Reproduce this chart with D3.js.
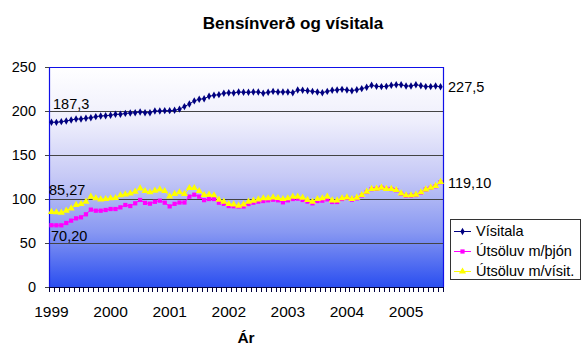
<!DOCTYPE html>
<html><head><meta charset="utf-8">
<script src="https://cdn.jsdelivr.net/npm/d3@7"></script>
<style>body{margin:0;background:#fff}svg{display:block}text{font-family:"Liberation Sans",Arial,sans-serif}</style>
</head><body><svg id="c" width="586" height="360"></svg>
<script>
const years = ["1999","2000","2001","2002","2003","2004","2005"];
const nMonths = 80;
const yTicks = [0,50,100,150,200,250];
const visitala = [187.3,187.1,187.9,188.6,189.8,190.9,190.9,191.7,192.4,193.6,194.3,194.7,195.1,196.2,196.2,197.3,197.7,198.1,198.9,198.1,198.1,200.0,200.0,200.4,200.4,200.8,202.1,205.0,208.0,211.5,213.3,214.0,216.7,217.8,218.6,220.1,220.8,220.5,221.6,221.2,221.2,221.6,221.6,220.1,221.2,222.3,221.6,221.6,221.6,220.8,223.9,223.5,223.1,222.3,221.6,220.8,222.3,223.5,223.9,224.6,223.9,223.1,224.2,225.4,226.9,229.2,228.0,227.7,228.0,229.2,229.9,229.9,228.4,228.4,229.9,228.8,227.7,227.7,228.4,227.5];
const thjon = [70.2,70.1,70.1,72.7,75.4,78.0,79.2,82.6,87.9,86.7,86.7,87.5,88.6,88.6,90.5,93.2,92.0,95.1,98.9,95.6,94.7,96.8,98.1,95.8,91.6,94.5,96.0,96.0,102.7,104.9,102.7,98.7,100.0,100.0,95.8,94.5,92.0,91.8,91.5,91.5,94.3,95.8,97.0,97.7,98.5,99.2,98.5,96.2,98.5,100.0,100.4,98.9,97.0,95.1,97.7,98.1,99.6,96.6,96.6,100.0,101.2,99.2,100.8,104.0,108.0,111.2,111.5,112.8,111.5,111.3,110.0,106.0,103.8,103.8,104.5,107.3,110.8,112.6,114.5,119.1];
const visit = [85.27,84.9,84.5,86.7,89.4,93.2,94.3,97.0,102.7,100.8,99.6,100.0,100.8,101.1,104.2,105.3,106.4,108.3,112.1,109.1,107.6,109.5,111.0,109.1,103.0,105.7,107.6,105.7,112.5,112.5,109.1,104.5,104.9,104.2,99.2,97.0,94.3,93.9,92.4,93.9,97.0,98.1,99.6,100.8,100.8,101.9,101.1,100.0,100.8,102.7,102.7,101.5,98.9,97.0,100.0,100.8,102.7,98.5,98.5,100.8,101.9,100.0,101.5,104.5,108.3,111.4,111.7,112.9,111.4,111.4,110.2,106.4,104.2,104.2,104.9,107.6,111.0,112.9,114.8,119.4];
const seriesNames = ["Vísitala","Útsöluv m/þjón","Útsöluv m/vísit."];
const firstLabels = ["187,3","70,20","85,27"];
const lastLabels = ["227,5","119,10",null];

const categories = d3.range(nMonths);
const svg = d3.select("#c");
const L=49,R=443,T=67,B=287;
const x = d3.scaleBand().domain(categories).range([L,R]).paddingInner(0).paddingOuter(0);
const y = d3.scaleLinear().domain([0,250]).range([B,T]);
const cx = i => x(i)+x.bandwidth()/2;

const defs = svg.append("defs");
const g = defs.append("linearGradient").attr("id","bg").attr("x1",0).attr("y1",0).attr("x2",0).attr("y2",1);
[[0,"#ffffff"],[0.25,"#eeeefc"],[0.5,"#c6c9f6"],[0.75,"#8898f2"],[1,"#2a4ef0"]].forEach(s=>g.append("stop").attr("offset",s[0]).attr("stop-color",s[1]));

svg.append("rect").attr("x",L).attr("y",T).attr("width",R-L).attr("height",B-T).attr("fill","url(#bg)");

// gridlines
svg.append("g").selectAll("line").data(yTicks.filter(d=>d>0&&d<250)).join("line")
  .attr("x1",L-4).attr("x2",R).attr("y1",d=>y(d)+0.5).attr("y2",d=>y(d)+0.5).attr("stroke","#444").attr("stroke-width",1);
// border
svg.append("path").attr("d",`M${L+0.5},${B}V${T+0.5}H${R+0.5}V${B}`).attr("fill","none").attr("stroke","#1010e8").attr("stroke-width",1.2);
// y ticks at 0 and 250
svg.append("g").selectAll("line").data([0,250]).join("line")
  .attr("x1",L-4).attr("x2",L).attr("y1",d=>y(d)+0.5).attr("y2",d=>y(d)+0.5).attr("stroke","#444");
// y labels
svg.append("g").selectAll("text").data(yTicks).join("text")
  .attr("x",36).attr("y",d=>y(d)+5).attr("text-anchor","end").attr("font-size",14.5).attr("fill","#000").text(d=>d);
// x axis
svg.append("line").attr("x1",L).attr("x2",R+1).attr("y1",B+0.5).attr("y2",B+0.5).attr("stroke","#000040");
svg.append("g").selectAll("line").data(d3.range(nMonths+1)).join("line")
  .attr("x1",i=>Math.round(L+i*x.bandwidth())+0.5).attr("x2",i=>Math.round(L+i*x.bandwidth())+0.5)
  .attr("y1",B).attr("y2",B+5).attr("stroke","#000040");
svg.append("g").selectAll("text").data(years).join("text")
  .attr("x",(d,i)=>cx(i*12)).attr("y",316.5).attr("text-anchor","middle").attr("font-size",15.5).text(d=>d);

// series
const data = [visitala,thjon,visit];
const colors = ["#000080","#ff00ff","#ffff00"];
const symbols = [d3.symbolDiamond,d3.symbolSquare,d3.symbolTriangle];
const sizes = [16,18,22];
const line = d3.line().x((d,i)=>cx(i)).y(d=>y(d));
data.forEach((s,k)=>{
  const gg = svg.append("g");
  gg.append("path").datum(s).attr("d",line).attr("fill","none").attr("stroke",colors[k]).attr("stroke-width",1);
  gg.selectAll("path.m").data(s).join("path").attr("class","m")
    .attr("transform",(d,i)=>`translate(${cx(i)},${y(d)})`)
    .attr("d",d3.symbol().type(symbols[k]).size(sizes[k])).attr("fill",colors[k]);
});

// data labels
const fl = [[53,108.7],[51,241],[49,195]];
firstLabels.forEach((t,k)=>svg.append("text").attr("x",fl[k][0]).attr("y",fl[k][1]).attr("font-size",14.5).text(t));
svg.append("text").attr("x",448).attr("y",y(visitala[79])+5).attr("font-size",14.5).text(lastLabels[0]);
svg.append("text").attr("x",448).attr("y",188.3).attr("font-size",14.5).text(lastLabels[1]);

// title
svg.append("text").attr("x",293).attr("y",29).attr("text-anchor","middle").attr("font-size",17).attr("font-weight","bold").text("Bensínverð og vísitala");
svg.append("text").attr("x",246).attr("y",343).attr("text-anchor","middle").attr("font-size",15.5).attr("font-weight","bold").text("Ár");

// legend
const lg = svg.append("g");
lg.append("rect").attr("x",450.5).attr("y",219.5).attr("width",130).attr("height",60).attr("fill","#fff").attr("stroke","#333");
seriesNames.forEach((n,k)=>{
  const yy = 231+k*20;
  lg.append("line").attr("x1",454).attr("x2",471).attr("y1",yy+0.5).attr("y2",yy+0.5).attr("stroke",colors[k]);
  lg.append("path").attr("transform",`translate(462.5,${yy+0.5})`).attr("d",d3.symbol().type(symbols[k]).size(sizes[k])).attr("fill",colors[k]);
  lg.append("text").attr("x",476).attr("y",yy+5).attr("font-size",14.5).text(n);
});
</script></body></html>
